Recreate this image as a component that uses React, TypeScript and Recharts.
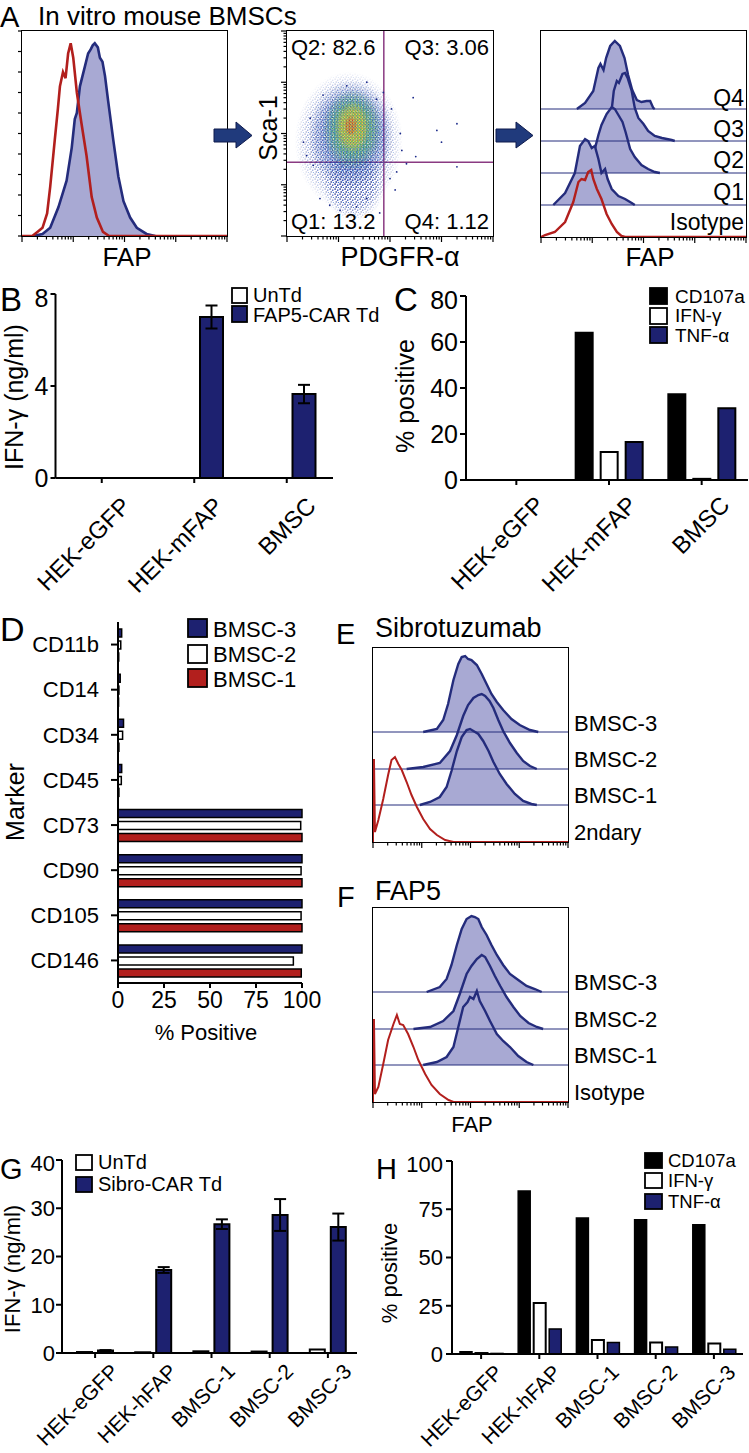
import React from 'react';
import {
  ComposedChart,
  Area,
  Line,
  Scatter,
  BarChart,
  Bar,
  XAxis,
  YAxis,
  ReferenceLine,
  ErrorBar,
} from 'recharts';

type Pt = [number, number];
type Rect = { x: number; y: number; w: number; h: number };
type Pad = { l: number; t: number; r: number; b: number };

const FONT = '"Liberation Sans", Arial, Helvetica, sans-serif';
const NAVY = '#1d2170';
const OUTLINE = '#242c7c';
const LAVENDER = '#a8a9d3';
const RED = '#b21f1d';
const GATE = '#8a3a82';

// flow axes: 4 log decades, minor ticks at 2..9 of each decade
const DECADES = [0, 1, 2, 3];
const MINORS = [1, 2, 3, 4, 5, 6, 7, 8, 9];
const LOG_TICKS = DECADES.flatMap((d) => MINORS.map((k) => d + Math.log10(k))).concat(4);

// ---- A left: FAP histogram (x = decades, y = % of max) ----
const aIso: Pt[] = [[0, 0], [0.2, 0], [0.3, 2], [0.4, 4], [0.49, 11], [0.55, 24], [0.64, 47], [0.7, 62], [0.74, 73], [0.8, 80], [0.85, 77], [0.9, 89], [0.95, 94], [1.0, 87], [1.07, 70], [1.16, 55], [1.26, 39], [1.36, 19], [1.46, 9], [1.58, 2], [1.7, 0], [4, 0]];
const aFap: Pt[] = [[0.22, 0], [0.4, 1], [0.55, 4], [0.71, 14], [0.87, 27], [0.97, 43], [1.03, 57], [1.07, 60], [1.13, 73], [1.23, 83], [1.29, 89], [1.34, 91], [1.38, 93], [1.42, 94], [1.48, 92], [1.52, 87], [1.57, 85], [1.62, 78], [1.68, 66], [1.78, 47], [1.88, 29], [1.98, 17], [2.11, 9], [2.24, 4], [2.43, 1], [2.6, 0]];
const aCountTicks = [0, 10, 20, 30, 40, 50, 60, 70, 80, 90, 100];

// ---- A middle: Sca-1 vs PDGFR-a (decades) ----
const scGateX = 1.88;
const scGateY = 1.44;
const scCloud = [
  { x: 1.2, y: 1.85, sx: 1.05, sy: 1.35, level: 0 },
  { x: 1.3, y: 1.0, sx: 0.6, sy: 0.7, level: 0 },
  { x: 1.24, y: 1.98, sx: 0.82, sy: 1.05, level: 1 },
  { x: 1.27, y: 2.08, sx: 0.58, sy: 0.78, level: 2 },
  { x: 1.27, y: 2.12, sx: 0.34, sy: 0.5, level: 3 },
  { x: 1.24, y: 2.15, sx: 0.13, sy: 0.21, level: 4 },
];
const scDots: Pt[] = [[2.45, 2.7], [2.91, 2.06], [3.0, 1.83], [3.3, 2.19], [3.3, 1.35], [2.32, 1.41], [2.23, 1.67], [2.13, 1.25], [2.0, 1.12], [0.51, 1.38], [0.38, 1.57], [0.32, 1.83], [0.64, 0.73], [0.83, 0.6], [1.35, 0.57], [1.55, 0.73], [1.03, 0.5], [1.55, 3.0], [1.16, 2.93], [1.74, 2.67], [2.03, 2.48], [1.87, 2.8], [2.2, 2.0], [2.5, 1.55], [0.45, 2.3], [0.7, 2.75], [2.1, 0.9], [1.8, 0.45]];

// ---- A right: FAP per quadrant (height units = px of box) ----
const aQ4: Pt[] = [[0.7, 0], [0.86, 6], [1.02, 18], [1.12, 41], [1.16, 45], [1.22, 39], [1.27, 51], [1.35, 63], [1.44, 68], [1.54, 63], [1.63, 51], [1.7, 34], [1.78, 19], [1.87, 9], [1.96, 7], [2.06, 8], [2.13, 8], [2.19, 1], [2.22, 0]];
const aQ3: Pt[] = [[1.18, 0], [1.28, 10], [1.37, 27], [1.42, 50], [1.48, 60], [1.52, 58], [1.59, 67], [1.64, 68], [1.69, 63], [1.77, 50], [1.83, 33], [1.9, 23], [2.0, 17], [2.09, 10], [2.22, 5], [2.36, 3], [2.55, 1], [2.61, 0]];
const aQ2: Pt[] = [[0.79, 0], [0.92, 8], [1.05, 24], [1.12, 38], [1.18, 48], [1.28, 59], [1.38, 66], [1.44, 64], [1.51, 58], [1.59, 51], [1.65, 41], [1.74, 24], [1.83, 16], [1.96, 8], [2.09, 4], [2.22, 1], [2.32, 0]];
const aQ1: Pt[] = [[0.24, 0], [0.47, 12], [0.66, 32], [0.76, 59], [0.86, 66], [0.92, 64], [0.99, 57], [1.05, 59], [1.12, 46], [1.18, 32], [1.25, 36], [1.3, 26], [1.38, 16], [1.51, 9], [1.64, 6], [1.77, 2], [1.83, 0]];
const aQIso: Pt[] = [[0, 0], [0.08, 2], [0.27, 5], [0.47, 15], [0.63, 35], [0.73, 55], [0.79, 58], [0.86, 57], [0.92, 65], [0.98, 67], [1.02, 58], [1.09, 48], [1.18, 38], [1.28, 23], [1.38, 13], [1.48, 5], [1.57, 1], [1.64, 0], [4, 0]];

// ---- B ----
const bCats = ['HEK-eGFP', 'HEK-mFAP', 'BMSC'];
const bUnTd = [0, 0, 0];
const bCar = [0, 7.0, 3.65];
const bCarErr = [0, 0.5, 0.4];

// ---- C ----
const cCd107a = [0, 64, 37.3];
const cIfng = [0, 12.2, 0.5];
const cTnfa = [0, 16.5, 31.2];

// ---- D ----
const dMarkers = ['CD11b', 'CD14', 'CD34', 'CD45', 'CD73', 'CD90', 'CD105', 'CD146'];
const dBmsc3 = [2, 1.2, 3, 2, 100, 100, 100, 100];
const dBmsc2 = [1.5, 0.5, 2.5, 1.8, 99.3, 99.5, 99.5, 95.3];
const dBmsc1 = [0.4, 0.3, 0.5, 0.5, 100, 100, 100, 99.6];

// ---- E: Sibrotuzumab ----
const eB3: Pt[] = [[1.03, 0], [1.31, 3], [1.44, 12], [1.54, 28], [1.65, 52], [1.75, 68], [1.82, 75], [1.89, 76], [1.95, 73], [2.02, 72], [2.13, 67], [2.23, 58], [2.33, 48], [2.43, 38], [2.54, 30], [2.67, 22], [2.84, 13], [3.01, 7], [3.22, 2], [3.39, 0]];
const eB2: Pt[] = [[0.69, 0], [1.03, 2], [1.37, 6], [1.58, 18], [1.72, 34], [1.85, 53], [1.95, 64], [2.06, 71], [2.16, 74], [2.23, 75], [2.3, 73], [2.39, 68], [2.47, 61], [2.57, 49], [2.67, 38], [2.81, 26], [2.95, 16], [3.08, 8], [3.22, 3], [3.36, 0]];
const eB1: Pt[] = [[0.96, 0], [1.17, 3], [1.37, 8], [1.51, 18], [1.61, 34], [1.72, 54], [1.82, 68], [1.92, 75], [1.99, 76], [2.06, 74], [2.16, 71], [2.26, 64], [2.37, 54], [2.47, 43], [2.6, 31], [2.74, 21], [2.91, 11], [3.08, 4], [3.25, 1], [3.36, 0]];
const e2nd: Pt[] = [[0, 0], [0, 82], [0.02, 82], [0.04, 10], [0.11, 22], [0.21, 43], [0.31, 67], [0.38, 82], [0.45, 85], [0.52, 78], [0.59, 72], [0.69, 60], [0.79, 47], [0.9, 35], [1.03, 23], [1.17, 13], [1.31, 7], [1.48, 2], [1.65, 0], [4, 0]];

// ---- F: FAP5 ----
const fB3: Pt[] = [[1.1, 0], [1.37, 5], [1.51, 13], [1.61, 27], [1.72, 47], [1.82, 63], [1.92, 73], [2.02, 76], [2.09, 75], [2.16, 73], [2.23, 65], [2.33, 57], [2.43, 47], [2.54, 37], [2.67, 27], [2.81, 18], [2.98, 12], [3.15, 6], [3.32, 3], [3.46, 0]];
const fB2: Pt[] = [[0.83, 0], [1.17, 2], [1.44, 8], [1.65, 18], [1.78, 35], [1.92, 55], [2.02, 63], [2.13, 70], [2.23, 74], [2.3, 72], [2.4, 63], [2.5, 53], [2.61, 43], [2.74, 32], [2.88, 22], [3.02, 13], [3.19, 6], [3.36, 2], [3.49, 0]];
const fB1: Pt[] = [[1.03, 0], [1.31, 3], [1.51, 8], [1.65, 18], [1.75, 38], [1.85, 58], [1.94, 63], [1.99, 68], [2.06, 66], [2.13, 74], [2.19, 64], [2.3, 54], [2.4, 44], [2.54, 31], [2.67, 24], [2.81, 18], [2.98, 9], [3.15, 3], [3.29, 0]];
const fIso: Pt[] = [[0, 0], [0, 82], [0.02, 82], [0.04, 8], [0.11, 15], [0.21, 38], [0.31, 62], [0.42, 78], [0.49, 87], [0.55, 78], [0.62, 77], [0.72, 68], [0.83, 55], [0.93, 42], [1.07, 28], [1.2, 17], [1.37, 8], [1.55, 2], [1.65, 0], [4, 0]];

// ---- G ----
const gCats = ['HEK-eGFP', 'HEK-hFAP', 'BMSC-1', 'BMSC-2', 'BMSC-3'];
const gUnTd = [0.2, 0.15, 0.35, 0.3, 0.7];
const gSibro = [0.5, 17.2, 26.7, 28.6, 26.1];
const gSibroErr = [0.1, 0.6, 1.0, 3.3, 2.8];

// ---- H ----
const hCd107a = [1.2, 84.5, 70.5, 69.6, 67];
const hIfng = [0.5, 26.4, 7.3, 5.9, 5.5];
const hTnfa = [0.3, 13, 5.9, 3.6, 2.5];

const toRows = (pts: Pt[]) => pts.map(([x, y]) => ({ x, y }));
const box = (r: Rect, m: Pad) => ({
  left: r.x - m.l,
  top: r.y - m.t,
  width: r.w + m.l + m.r,
  height: r.h + m.t + m.b,
});

const isMajor = (v: number) => Math.abs(v - Math.round(v)) < 1e-6;
const LogTickBottom = (p: any) => (
  <line x1={p.x} x2={p.x} y1={p.y} y2={p.y + (isMajor(p.payload.value) ? 6 : 3.5)} stroke="#000" strokeWidth={1.2} />
);
const LogTickLeft = (p: any) => (
  <line y1={p.y} y2={p.y} x1={p.x} x2={p.x - (isMajor(p.payload.value) ? 6 : 3.5)} stroke="#000" strokeWidth={1.2} />
);
const LinTickLeft = (p: any) => (
  <line y1={p.y} y2={p.y} x1={p.x} x2={p.x - 4} stroke="#000" strokeWidth={1.2} />
);
const rotTick = (dx: number, dy: number, size: number) => (p: any) => (
  <text
    transform={`translate(${p.x + dx},${p.y + dy}) rotate(-45)`}
    textAnchor="end"
    dominantBaseline="hanging"
    fontSize={size}
    fontFamily={FONT}
    fill="#000"
  >
    {p.payload.value}
  </text>
);

const axisStroke = { stroke: '#000', strokeWidth: 2 };

type Curve = { pts: Pt[]; base: number; filled: boolean; color: string; width: number };

function Histo({ r, yMax, curves, lanes, yTicks }: { r: Rect; yMax: number; curves: Curve[]; lanes: number[]; yTicks?: number[] }) {
  const m = { l: yTicks ? 8 : 2, t: 3, r: 3, b: 9 };
  const b = box(r, m);
  return (
    <>
      <div style={{ position: 'absolute', left: r.x - 0.75, top: r.y - 0.75, width: r.w + 1.5, height: r.h + 1.5, border: '1.5px solid #000', boxSizing: 'border-box' }} />
      <div style={{ position: 'absolute', left: b.left, top: b.top }}>
        <ComposedChart width={b.width} height={b.height} margin={{ top: m.t, right: m.r, left: 0, bottom: 0 }}>
          <XAxis type="number" dataKey="x" domain={[0, 4]} ticks={LOG_TICKS} interval={0} tickSize={0} tickMargin={0} axisLine={false} tickLine={false} tick={LogTickBottom} height={m.b} allowDataOverflow />
          <YAxis type="number" domain={[0, yMax]} width={m.l} ticks={yTicks} interval={0} tickSize={0} tickMargin={0} axisLine={false} tickLine={false} tick={yTicks ? LinTickLeft : false} allowDataOverflow />
          {lanes.map((y) => (
            <ReferenceLine key={y} y={y} stroke={OUTLINE} strokeWidth={1} />
          ))}
          {curves.map((c, i) =>
            c.filled ? (
              <Area
                key={i}
                data={toRows(c.pts)}
                dataKey={(d: any) => c.base + d.y}
                baseValue={c.base}
                type="linear"
                stroke={c.color}
                strokeWidth={c.width}
                fill={LAVENDER}
                fillOpacity={1}
                dot={false}
                activeDot={false}
                isAnimationActive={false}
              />
            ) : (
              <Line
                key={i}
                data={toRows(c.pts)}
                dataKey={(d: any) => c.base + d.y}
                type="linear"
                stroke={c.color}
                strokeWidth={c.width}
                dot={false}
                activeDot={false}
                isAnimationActive={false}
              />
            ),
          )}
        </ComposedChart>
      </div>
    </>
  );
}

const A_LEFT: Rect = { x: 22, y: 31, w: 205, h: 205 };
const A_SC: Rect = { x: 287, y: 31, w: 206, h: 205 };
const A_RIGHT: Rect = { x: 541, y: 31, w: 205, h: 206 };
const B_PLOT: Rect = { x: 55.5, y: 294, w: 277.5, h: 184 };
const C_PLOT: Rect = { x: 466, y: 296, w: 282, h: 184 };
const D_PLOT: Rect = { x: 118, y: 622, w: 184, h: 361 };
const E_PLOT: Rect = { x: 373, y: 648, w: 195, h: 194 };
const F_PLOT: Rect = { x: 373, y: 908, w: 195, h: 194 };
const G_PLOT: Rect = { x: 62, y: 1160, w: 295, h: 193 };
const H_PLOT: Rect = { x: 452, y: 1161, w: 291, h: 193 };

const PX_DEC = A_SC.w / 4;

function ScatterPanel() {
  const r = A_SC;
  const m = { l: 8, t: 3, r: 3, b: 9 };
  const b = box(r, m);
  return (
    <>
      <div style={{ position: 'absolute', left: r.x - 0.75, top: r.y - 0.75, width: r.w + 1.5, height: r.h + 1.5, border: '1.5px solid #000', boxSizing: 'border-box' }} />
      <div style={{ position: 'absolute', left: b.left, top: b.top }}>
        <ComposedChart width={b.width} height={b.height} margin={{ top: m.t, right: m.r, left: 0, bottom: 0 }}>
          <XAxis type="number" dataKey="x" domain={[0, 4]} ticks={LOG_TICKS} interval={0} tickSize={0} tickMargin={0} axisLine={false} tickLine={false} tick={LogTickBottom} height={m.b} allowDataOverflow />
          <YAxis type="number" dataKey="y" domain={[0, 4]} ticks={LOG_TICKS} interval={0} tickSize={0} tickMargin={0} axisLine={false} tickLine={false} tick={LogTickLeft} width={m.l} allowDataOverflow />
          <Scatter
            data={scCloud}
            isAnimationActive={false}
            shape={(p: any) => (
              <ellipse cx={p.cx} cy={p.cy} rx={p.payload.sx * PX_DEC} ry={p.payload.sy * PX_DEC} fill={`url(#spk${p.payload.level})`} mask="url(#fade)" />
            )}
          />
          <Scatter
            data={toRows(scDots)}
            isAnimationActive={false}
            shape={(p: any) => <circle cx={p.cx} cy={p.cy} r={0.9} fill="#1b2a8a" />}
          />
          <ReferenceLine x={scGateX} stroke={GATE} strokeWidth={1.5} />
          <ReferenceLine y={scGateY} stroke={GATE} strokeWidth={1.5} />
        </ComposedChart>
      </div>
    </>
  );
}

const Tx = ({ x, y, s, a = 'start', r, children }: { x: number; y: number; s: number; a?: 'start' | 'middle' | 'end'; r?: number; children: React.ReactNode }) => (
  <text x={x} y={y} fontSize={s} textAnchor={a} fontFamily={FONT} fill="#000" transform={r ? `rotate(${r} ${x} ${y})` : undefined}>
    {children}
  </text>
);
const Sq = ({ x, y, w, h, fill }: { x: number; y: number; w: number; h: number; fill: string }) => (
  <rect x={x} y={y} width={w} height={h} fill={fill} stroke="#000" strokeWidth={1.8} />
);

function Overlay() {
  return (
    <svg width={749} height={1453} style={{ position: 'absolute', left: 0, top: 0, pointerEvents: 'none' }}>
      <defs>
        <pattern id="spk0" patternUnits="userSpaceOnUse" width={5} height={5}>
          <rect x={0.5} y={0.5} width={1.2} height={1.2} fill="#1b2a8a" />
          <rect x={3.1} y={1.6} width={1.2} height={1.2} fill="#2540b5" />
          <rect x={1.6} y={3.4} width={1.2} height={1.2} fill="#1b2a8a" />
          <rect x={3.9} y={4.0} width={1.0} height={1.0} fill="#3366cc" />
        </pattern>
        <pattern id="spk1" patternUnits="userSpaceOnUse" width={3.6} height={3.6}>
          <rect x={0.3} y={0.3} width={1.2} height={1.2} fill="#1b2a8a" />
          <rect x={2.0} y={0.9} width={1.2} height={1.2} fill="#2b50c8" />
          <rect x={1.0} y={2.1} width={1.2} height={1.2} fill="#2f7fd0" />
          <rect x={2.6} y={2.6} width={1.0} height={1.0} fill="#1b2a8a" />
        </pattern>
        <pattern id="spk2" patternUnits="userSpaceOnUse" width={3.2} height={3.2}>
          <rect x={0.2} y={0.2} width={1.2} height={1.2} fill="#2c9c5c" />
          <rect x={1.8} y={0.7} width={1.2} height={1.2} fill="#5cb85c" />
          <rect x={0.8} y={1.8} width={1.2} height={1.2} fill="#1f8fa8" />
          <rect x={2.2} y={2.2} width={1.0} height={1.0} fill="#9acd32" />
        </pattern>
        <pattern id="spk3" patternUnits="userSpaceOnUse" width={3} height={3}>
          <rect x={0.2} y={0.2} width={1.3} height={1.3} fill="#d9c72a" />
          <rect x={1.6} y={0.7} width={1.2} height={1.2} fill="#e3a52a" />
          <rect x={0.7} y={1.7} width={1.2} height={1.2} fill="#8cc63f" />
          <rect x={2.0} y={2.0} width={1.0} height={1.0} fill="#e8d54a" />
        </pattern>
        <pattern id="spk4" patternUnits="userSpaceOnUse" width={3} height={3}>
          <rect x={0.3} y={0.3} width={1.3} height={1.3} fill="#d8552a" />
          <rect x={1.7} y={1.2} width={1.2} height={1.2} fill="#e07b2a" />
          <rect x={0.9} y={2.0} width={1.0} height={1.0} fill="#c9302c" />
        </pattern>
        <radialGradient id="fadeGrad">
          <stop offset="0" stopColor="#fff" />
          <stop offset="0.62" stopColor="#fff" />
          <stop offset="1" stopColor="#000" />
        </radialGradient>
        <mask id="fade" maskContentUnits="objectBoundingBox">
          <rect x={0} y={0} width={1} height={1} fill="url(#fadeGrad)" />
        </mask>
      </defs>

      {/* A */}
      <Tx x={0} y={27} s={29}>A</Tx>
      <Tx x={38} y={25} s={26}>In vitro mouse BMSCs</Tx>
      <Tx x={127} y={266} s={26} a="middle">FAP</Tx>
      <Tx x={277} y={128} s={25} a="middle" r={-90}>Sca-1</Tx>
      <Tx x={400} y={266} s={27} a="middle">PDGFR-α</Tx>
      <Tx x={650} y={266} s={26} a="middle">FAP</Tx>
      <Tx x={291} y={55} s={22}>Q2: 82.6</Tx>
      <Tx x={489} y={55} s={22} a="end">Q3: 3.06</Tx>
      <Tx x={291} y={229} s={22}>Q1: 13.2</Tx>
      <Tx x={489} y={229} s={22} a="end">Q4: 1.12</Tx>
      <Tx x={744} y={106} s={23} a="end">Q4</Tx>
      <Tx x={744} y={137} s={23} a="end">Q3</Tx>
      <Tx x={744} y={168} s={23} a="end">Q2</Tx>
      <Tx x={744} y={200} s={23} a="end">Q1</Tx>
      <Tx x={744} y={230} s={23} a="end">Isotype</Tx>
      <polygon points="214,129 236,129 236,122 252,135.5 236,148 236,142 214,142" fill="#203a7c" stroke="#0e1b4d" strokeWidth={1} />
      <polygon points="496,129 516,129 516,122 533,135.5 516,148 516,142 496,142" fill="#203a7c" stroke="#0e1b4d" strokeWidth={1} />

      {/* B */}
      <Tx x={0} y={311} s={33}>B</Tx>
      <Tx x={23} y={397} s={25} a="middle" r={-90}>IFN-γ (ng/ml)</Tx>
      <Sq x={232} y={288} w={15} h={15} fill="#fff" />
      <Sq x={232} y={306} w={15} h={16} fill={NAVY} />
      <Tx x={253} y={302} s={20}>UnTd</Tx>
      <Tx x={253} y={322} s={20}>FAP5-CAR Td</Tx>

      {/* C */}
      <Tx x={394} y={311} s={33}>C</Tx>
      <Tx x={414} y={396} s={25} a="middle" r={-90}>% positive</Tx>
      <Sq x={650} y={288} w={17} h={16} fill="#000" />
      <Sq x={650} y={308} w={17} h={16} fill="#fff" />
      <Sq x={650} y={327} w={17} h={16} fill={NAVY} />
      <Tx x={675} y={303} s={19}>CD107a</Tx>
      <Tx x={675} y={322} s={19}>IFN-γ</Tx>
      <Tx x={675} y={342} s={19}>TNF-α</Tx>

      {/* D */}
      <Tx x={0} y={641} s={34}>D</Tx>
      <Tx x={24} y={802} s={25} a="middle" r={-90}>Marker</Tx>
      <Sq x={188} y={619} w={19} h={18} fill={NAVY} />
      <Sq x={188} y={645} w={19} h={18} fill="#fff" />
      <Sq x={188} y={669} w={19} h={18} fill={RED} />
      <Tx x={213} y={637} s={22}>BMSC-3</Tx>
      <Tx x={213} y={662} s={22}>BMSC-2</Tx>
      <Tx x={213} y={687} s={22}>BMSC-1</Tx>
      <Tx x={206} y={1040} s={22} a="middle">% Positive</Tx>

      {/* E */}
      <Tx x={336} y={644} s={29}>E</Tx>
      <Tx x={375} y={637} s={27}>Sibrotuzumab</Tx>
      <Tx x={574} y={731} s={22}>BMSC-3</Tx>
      <Tx x={574} y={767} s={22}>BMSC-2</Tx>
      <Tx x={574} y={803} s={22}>BMSC-1</Tx>
      <Tx x={574} y={840} s={22}>2ndary</Tx>

      {/* F */}
      <Tx x={337} y={907} s={29}>F</Tx>
      <Tx x={375} y={900} s={27}>FAP5</Tx>
      <Tx x={574} y={990} s={22}>BMSC-3</Tx>
      <Tx x={574} y={1027} s={22}>BMSC-2</Tx>
      <Tx x={574} y={1063} s={22}>BMSC-1</Tx>
      <Tx x={574} y={1100} s={22}>Isotype</Tx>
      <Tx x={472} y={1132} s={22} a="middle">FAP</Tx>

      {/* G */}
      <Tx x={0} y={1179} s={29}>G</Tx>
      <Tx x={20} y={1269} s={22} a="middle" r={-90}>IFN-γ (ng/ml)</Tx>
      <Sq x={76} y={1155} w={16} h={15} fill="#fff" />
      <Sq x={76} y={1177} w={16} h={15} fill={NAVY} />
      <Tx x={98} y={1169} s={20}>UnTd</Tx>
      <Tx x={98} y={1191} s={20}>Sibro-CAR Td</Tx>

      {/* H */}
      <Tx x={376} y={1179} s={29}>H</Tx>
      <Tx x={397} y={1273} s={22} a="middle" r={-90}>% positive</Tx>
      <Sq x={645} y={1153} w={17} h={15} fill="#000" />
      <Sq x={645} y={1173} w={17} h={15} fill="#fff" />
      <Sq x={645} y={1194} w={17} h={15} fill={NAVY} />
      <Tx x={668} y={1167} s={18.5}>CD107a</Tx>
      <Tx x={668} y={1187} s={18.5}>IFN-γ</Tx>
      <Tx x={668} y={1208} s={18.5}>TNF-α</Tx>
    </svg>
  );
}

function PanelB() {
  const m = { l: 55.5, t: 10, r: 5, b: 125 };
  const b = box(B_PLOT, m);
  const rows = bCats.map((c, i) => ({ cat: c, untd: bUnTd[i], car: bCar[i], err: bCarErr[i] }));
  return (
    <div style={{ position: 'absolute', left: b.left, top: b.top }}>
      <BarChart width={b.width} height={b.height} data={rows} margin={{ top: m.t, right: m.r, left: 0, bottom: 0 }} barSize={23} barGap={12}>
        <XAxis dataKey="cat" height={m.b} interval={0} tickSize={5} tickMargin={0} axisLine={axisStroke} tickLine={axisStroke} tick={rotTick(18, 12, 24)} />
        <YAxis type="number" domain={[0, 8]} ticks={[0, 4, 8]} width={m.l} tickSize={5} tickMargin={2} axisLine={axisStroke} tickLine={axisStroke} tick={{ fill: '#000', fontSize: 25, fontFamily: FONT }} />
        <Bar dataKey="untd" fill="#fff" stroke="#000" strokeWidth={2} isAnimationActive={false} />
        <Bar dataKey="car" fill={NAVY} stroke="#000" strokeWidth={2} isAnimationActive={false}>
          <ErrorBar dataKey="err" width={6} stroke="#000" strokeWidth={2} />
        </Bar>
      </BarChart>
    </div>
  );
}

function PanelC() {
  const m = { l: 50, t: 10, r: 1, b: 125 };
  const b = box(C_PLOT, m);
  const rows = bCats.map((c, i) => ({ cat: c, cd: cCd107a[i], ifn: cIfng[i], tnf: cTnfa[i] }));
  return (
    <div style={{ position: 'absolute', left: b.left, top: b.top }}>
      <BarChart width={b.width} height={b.height} data={rows} margin={{ top: m.t, right: m.r, left: 0, bottom: 0 }} barSize={17} barGap={8}>
        <XAxis dataKey="cat" height={m.b} interval={0} padding={{ left: 4, right: 0 }} tickSize={5} tickMargin={0} axisLine={axisStroke} tickLine={axisStroke} tick={rotTick(17, 9, 24)} />
        <YAxis type="number" domain={[0, 80]} ticks={[0, 20, 40, 60, 80]} width={m.l} tickSize={6} tickMargin={2} axisLine={axisStroke} tickLine={axisStroke} tick={{ fill: '#000', fontSize: 25, fontFamily: FONT }} />
        <Bar dataKey="cd" fill="#000" stroke="#000" strokeWidth={2} isAnimationActive={false} />
        <Bar dataKey="ifn" fill="#fff" stroke="#000" strokeWidth={2} isAnimationActive={false} />
        <Bar dataKey="tnf" fill={NAVY} stroke="#000" strokeWidth={2} isAnimationActive={false} />
      </BarChart>
    </div>
  );
}

function PanelD() {
  const m = { l: 118, t: 5, r: 25, b: 32 };
  const b = box(D_PLOT, m);
  const rows = dMarkers.map((c, i) => ({ marker: c, b3: dBmsc3[i], b2: dBmsc2[i], b1: dBmsc1[i] }));
  return (
    <div style={{ position: 'absolute', left: b.left, top: b.top }}>
      <BarChart layout="vertical" width={b.width} height={b.height} data={rows} margin={{ top: m.t, right: m.r, left: 0, bottom: 0 }} barSize={8} barGap={4}>
        <XAxis type="number" domain={[0, 100]} ticks={[0, 25, 50, 75, 100]} height={m.b} interval={0} tickSize={5} tickMargin={4} axisLine={axisStroke} tickLine={axisStroke} tick={{ fill: '#000', fontSize: 23, fontFamily: FONT }} />
        <YAxis type="category" dataKey="marker" width={m.l} interval={0} tickSize={7} tickMargin={12} axisLine={axisStroke} tickLine={axisStroke} tick={{ fill: '#000', fontSize: 22, fontFamily: FONT }} />
        <Bar dataKey="b3" fill={NAVY} stroke="#000" strokeWidth={1.5} isAnimationActive={false} />
        <Bar dataKey="b2" fill="#fff" stroke="#000" strokeWidth={1.5} isAnimationActive={false} />
        <Bar dataKey="b1" fill={RED} stroke="#000" strokeWidth={1.5} isAnimationActive={false} />
      </BarChart>
    </div>
  );
}

function PanelG() {
  const m = { l: 62, t: 10, r: 5, b: 100 };
  const b = box(G_PLOT, m);
  const rows = gCats.map((c, i) => ({ cat: c, untd: gUnTd[i], sib: gSibro[i], err: gSibroErr[i] }));
  return (
    <div style={{ position: 'absolute', left: b.left, top: b.top }}>
      <BarChart width={b.width} height={b.height} data={rows} margin={{ top: m.t, right: m.r, left: 0, bottom: 0 }} barSize={15} barGap={6}>
        <XAxis dataKey="cat" height={m.b} interval={0} padding={{ left: 4, right: 0 }} tickSize={5} tickMargin={0} axisLine={axisStroke} tickLine={axisStroke} tick={rotTick(14, 4, 21)} />
        <YAxis type="number" domain={[0, 40]} ticks={[0, 10, 20, 30, 40]} width={m.l} tickSize={6} tickMargin={1} axisLine={axisStroke} tickLine={axisStroke} tick={{ fill: '#000', fontSize: 22, fontFamily: FONT }} />
        <Bar dataKey="untd" fill="#fff" stroke="#000" strokeWidth={2} isAnimationActive={false} />
        <Bar dataKey="sib" fill={NAVY} stroke="#000" strokeWidth={2} isAnimationActive={false}>
          <ErrorBar dataKey="err" width={6} stroke="#000" strokeWidth={2} />
        </Bar>
      </BarChart>
    </div>
  );
}

function PanelH() {
  const m = { l: 60, t: 10, r: 5, b: 99 };
  const b = box(H_PLOT, m);
  const rows = gCats.map((c, i) => ({ cat: c, cd: hCd107a[i], ifn: hIfng[i], tnf: hTnfa[i] }));
  return (
    <div style={{ position: 'absolute', left: b.left, top: b.top }}>
      <BarChart width={b.width} height={b.height} data={rows} margin={{ top: m.t, right: m.r, left: 0, bottom: 0 }} barSize={12} barGap={3.5}>
        <XAxis dataKey="cat" height={m.b} interval={0} tickSize={5} tickMargin={0} axisLine={axisStroke} tickLine={axisStroke} tick={rotTick(12, 4, 21)} />
        <YAxis type="number" domain={[0, 100]} ticks={[0, 25, 50, 75, 100]} width={m.l} tickSize={6} tickMargin={3} axisLine={axisStroke} tickLine={axisStroke} tick={{ fill: '#000', fontSize: 22, fontFamily: FONT }} />
        <Bar dataKey="cd" fill="#000" stroke="#000" strokeWidth={1.5} isAnimationActive={false} />
        <Bar dataKey="ifn" fill="#fff" stroke="#000" strokeWidth={2} isAnimationActive={false} />
        <Bar dataKey="tnf" fill={NAVY} stroke="#000" strokeWidth={1.5} isAnimationActive={false} />
      </BarChart>
    </div>
  );
}

export default function App() {
  return (
    <div style={{ position: 'absolute', left: 0, top: 0, width: 749, height: 1453, background: '#fff', overflow: 'hidden', fontFamily: FONT }}>
      <Histo
        r={A_LEFT}
        yMax={100}
        yTicks={aCountTicks}
        lanes={[]}
        curves={[
          { pts: aFap, base: 0, filled: true, color: OUTLINE, width: 2.6 },
          { pts: aIso, base: 0, filled: false, color: RED, width: 2.6 },
        ]}
      />
      <ScatterPanel />
      <Histo
        r={A_RIGHT}
        yMax={206}
        lanes={[32, 64, 96, 128]}
        curves={[
          { pts: aQ4, base: 128, filled: true, color: OUTLINE, width: 2.4 },
          { pts: aQ3, base: 96, filled: true, color: OUTLINE, width: 2.4 },
          { pts: aQ2, base: 64, filled: true, color: OUTLINE, width: 2.4 },
          { pts: aQ1, base: 32, filled: true, color: OUTLINE, width: 2.4 },
          { pts: aQIso, base: 0, filled: false, color: RED, width: 2.4 },
        ]}
      />
      <PanelB />
      <PanelC />
      <PanelD />
      <Histo
        r={E_PLOT}
        yMax={194}
        lanes={[37, 73, 110]}
        curves={[
          { pts: eB3, base: 110, filled: true, color: OUTLINE, width: 2.4 },
          { pts: eB2, base: 73, filled: true, color: OUTLINE, width: 2.4 },
          { pts: eB1, base: 37, filled: true, color: OUTLINE, width: 2.4 },
          { pts: e2nd, base: 0, filled: false, color: RED, width: 2 },
        ]}
      />
      <Histo
        r={F_PLOT}
        yMax={194}
        lanes={[37, 73, 110]}
        curves={[
          { pts: fB3, base: 110, filled: true, color: OUTLINE, width: 2.4 },
          { pts: fB2, base: 73, filled: true, color: OUTLINE, width: 2.4 },
          { pts: fB1, base: 37, filled: true, color: OUTLINE, width: 2.4 },
          { pts: fIso, base: 0, filled: false, color: RED, width: 2 },
        ]}
      />
      <PanelG />
      <PanelH />
      <Overlay />
    </div>
  );
}
